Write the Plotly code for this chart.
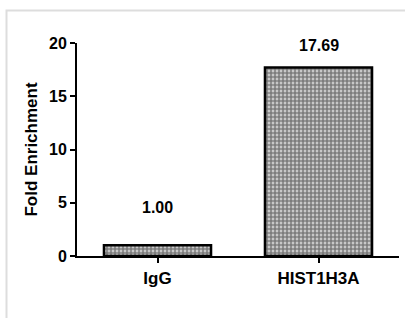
import plotly.graph_objects as go

categories = ["IgG", "HIST1H3A"]
values = [1.00, 17.69]
value_labels = ["1.00", "17.69"]
label_shift = [38, 22]
y_ticks = [0, 5, 10, 15, 20]

W, H = 405, 318
L, R, T, B = 77, 6, 43, 62
pw, ph = W - L - R, H - T - B

font = dict(family="Liberation Sans, Arial, sans-serif", color="black")

fig = go.Figure()
fig.add_trace(go.Bar(
    x=categories, y=values, width=0.665,
    marker=dict(
        color="white",
        line=dict(color="black", width=2.5),
        pattern=dict(shape=".", size=4, solidity=0.75, fgcolor="#111111", bgcolor="#e8e8e8"),
    ),
    hoverinfo="skip",
))

for c, v, t, s in zip(categories, values, value_labels, label_shift):
    fig.add_annotation(x=c, y=v, text="<b>%s</b>" % t, showarrow=False,
                       yshift=s, font=dict(size=16, **font))

def px2paper_x(p):
    return (p - L) / pw

def px2paper_y(p):
    return (H - B - p) / ph

fig.add_shape(type="rect", xref="paper", yref="paper",
              x0=px2paper_x(6.5), x1=px2paper_x(420),
              y0=px2paper_y(340), y1=px2paper_y(10.5),
              line=dict(color="#dddddd", width=2), layer="below")

fig.update_layout(
    width=W, height=H,
    margin=dict(l=L, r=R, t=T, b=B, pad=0),
    paper_bgcolor="white", plot_bgcolor="white",
    showlegend=False,
    font=dict(size=13, **font),
    xaxis=dict(
        range=[-0.5, 1.5], showline=True, linecolor="black", linewidth=2,
        ticks="outside", ticklen=5, tickwidth=1.5, tickcolor="black",
        tickvals=categories, ticktext=["<b>%s</b>" % c for c in categories],
        tickfont=dict(size=17, **font), showgrid=False, zeroline=False,
        ticklabelstandoff=1,
    ),
    yaxis=dict(
        range=[0, 20], showline=True, linecolor="black", linewidth=2,
        ticks="outside", ticklen=5, tickwidth=1.5, tickcolor="black",
        tickvals=y_ticks, ticktext=["<b>%d</b>" % v for v in y_ticks],
        tickfont=dict(size=16, **font), showgrid=False, zeroline=False,
        title=dict(text="<b>Fold Enrichment</b>", font=dict(size=17, **font), standoff=7),
    ),
)

fig.write_html("out.html", config={"displayModeBar": False},
               post_script="document.body.style.margin='0';document.body.style.padding='0';")
